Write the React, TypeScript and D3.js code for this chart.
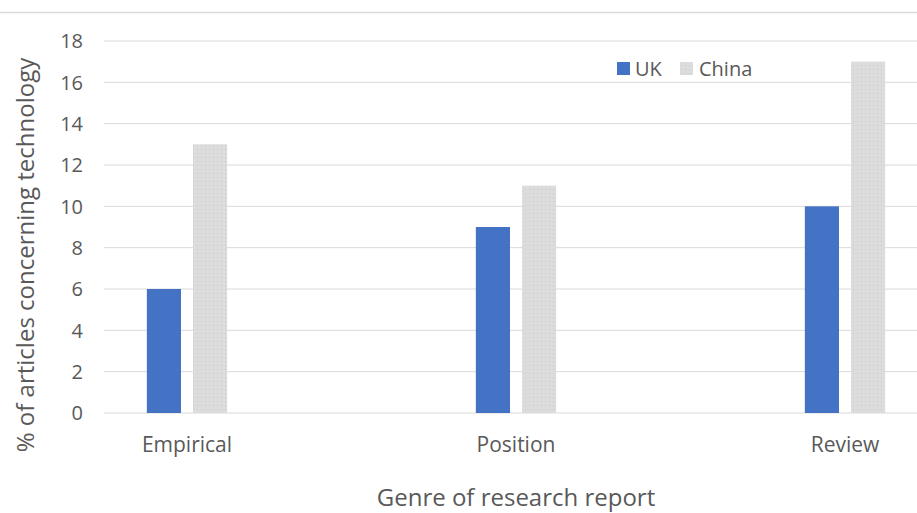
import React from "react";
import * as d3 from "d3";

const categories = ["Empirical", "Position", "Review"];
const seriesNames = ["UK", "China"];
const ukValues = [6, 9, 10];
const chinaValues = [13, 11, 17];
const yTicks = [0, 2, 4, 6, 8, 10, 12, 14, 16, 18];

const W = 917;
const H = 513;
const FONT = "'Open Sans', Lato, sans-serif";

export default function App() {
  const y = d3.scaleLinear().domain([0, 18]).range([413, 41]);
  const x = d3.scaleBand().domain(categories).range([22.5, 1009.5]).paddingInner(0).paddingOuter(0);
  const sub = d3.scaleBand().domain(seriesNames).range([-42, 42]).paddingInner(0.26).paddingOuter(0.04);
  const colors: Record<string, string> = { UK: "#4472C4", China: "url(#dots)" };
  const values: Record<string, number[]> = { UK: ukValues, China: chinaValues };

  return (
    <svg width={W} height={H} style={{ position: "absolute", left: 0, top: 0, background: "#fff" }}>
      <defs>
        <pattern id="dots" width="4" height="4" patternUnits="userSpaceOnUse">
          <rect width="4" height="4" fill="#DCDCDC" />
          <rect x="1" y="1" width="1" height="1" fill="#C9C9C9" />
        </pattern>
      </defs>
      <line x1={0} x2={W} y1={12.5} y2={12.5} stroke="#D9D9D9" strokeWidth={1.5} />
      {yTicks.map((t) => (
        <g key={t}>
          <line x1={104} x2={W} y1={y(t)} y2={y(t)} stroke="#D9D9D9" strokeWidth={1} />
          <text x={83} y={y(t)} dy="0.36em" textAnchor="end" fontFamily={FONT} fontSize={20} fill="#595959">
            {t}
          </text>
        </g>
      ))}
      {categories.map((c, i) => {
        const cx = (x(c) as number) + x.bandwidth() / 2;
        return (
          <g key={c}>
            {seriesNames.map((s) => (
              <rect
                key={s}
                x={cx + (sub(s) as number)}
                width={sub.bandwidth()}
                y={y(values[s][i])}
                height={y(0) - y(values[s][i])}
                fill={colors[s]}
              />
            ))}
            <text x={cx} y={452} textAnchor="middle" fontFamily={FONT} fontSize={21} fill="#595959">
              {c}
            </text>
          </g>
        );
      })}
      <text
        transform={`translate(34,255) rotate(-90)`}
        textAnchor="middle"
        fontFamily={FONT}
        fontSize={24}
        fill="#595959"
      >
        % of articles concerning technology
      </text>
      <text x={516} y={506} textAnchor="middle" fontFamily={FONT} fontSize={24} fill="#595959">
        Genre of research report
      </text>
      <g>
        <rect x={617} y={62} width={13} height={13} fill="#4472C4" />
        <text x={635} y={69} dy="0.36em" fontFamily={FONT} fontSize={20} fill="#595959">UK</text>
        <rect x={680} y={62} width={13} height={13} fill="url(#dots)" />
        <text x={699} y={69} dy="0.36em" fontFamily={FONT} fontSize={20} fill="#595959">China</text>
      </g>
    </svg>
  );
}
